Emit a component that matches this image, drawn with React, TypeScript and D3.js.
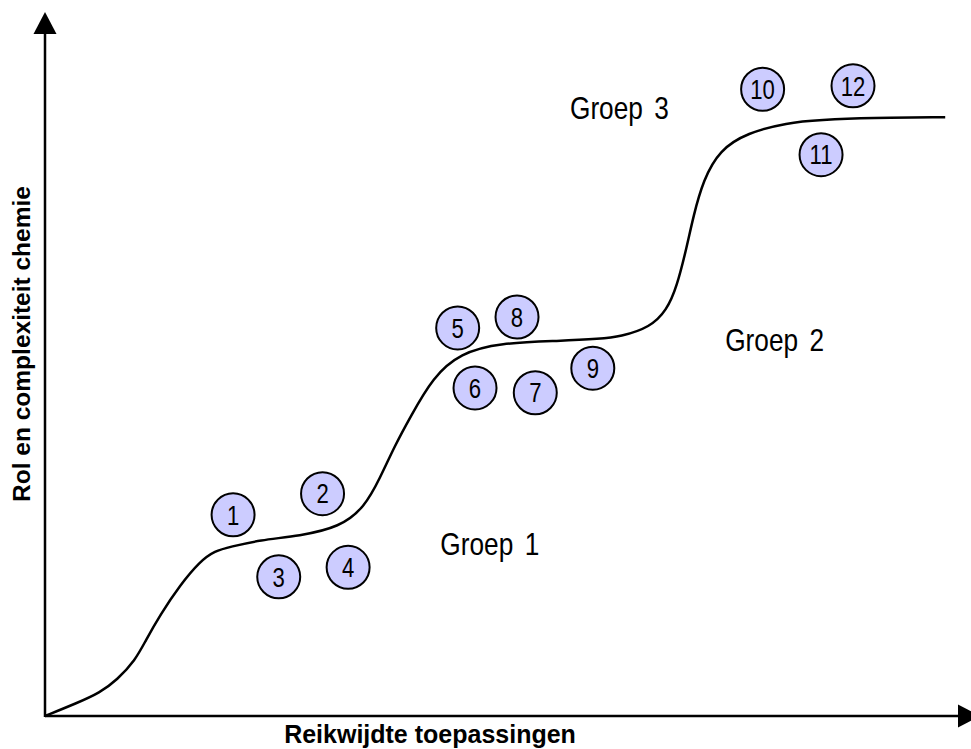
import * as d3 from "d3";

// curve (x: reach 0-100, y: role 0-100)
const curveX = [0, 3.5, 6.0, 7.9, 9.9, 11.0, 12.6, 14.8, 17.0, 18.6, 20.3, 23.5, 27.9, 32.3, 35.0, 36.7, 38.3, 40.0, 42.5, 45.5, 49.8, 56.4, 60.8, 63.0, 66.3, 68.1, 69.2, 70.3, 71.0, 72.1, 73.9, 76.9, 81.3, 84.9, 90.4, 98.6];
const curveY = [0, 1.9, 3.4, 5.3, 8.2, 11.0, 14.8, 19.2, 22.7, 24.2, 24.8, 25.8, 26.4, 27.7, 30.6, 34.9, 39.6, 43.8, 49.7, 53.2, 54.7, 55.0, 55.3, 55.6, 57.0, 59.5, 62.9, 68.8, 73.2, 78.6, 83.0, 85.5, 87.0, 87.4, 87.7, 87.8];

const itemIds = ["1", "2", "3", "4", "5", "6", "7", "8", "9", "10", "11", "12"];
const itemX = [20.6, 30.4, 25.6, 33.2, 45.2, 47.1, 53.7, 51.7, 60.0, 78.6, 85.0, 88.5];
const itemY = [29.5, 32.6, 20.4, 21.8, 56.9, 48.1, 47.4, 58.5, 51.0, 91.9, 82.3, 92.4];

const groupWord = "Groep";
const groupNums = ["1", "2", "3"];
const groupX = [43.3, 74.5, 57.5];
const groupY = [23.6, 53.5, 87.5];

const xTitle = "Reikwijdte toepassingen";
const yTitle = "Rol en complexiteit chemie";

const width = 971;
const height = 749;
const left = 45;
const right = 958;
const bottom = 716;
const top = 34;

const sans = "'Liberation Sans', Arial, sans-serif";
const squeeze = 0.82; // no narrow face installed, so squash the regular one

export default function App() {
  const x = d3.scaleLinear([0, 100], [left, right]);
  const y = d3.scaleLinear([0, 100], [bottom, top]);

  const pts: [number, number][] = curveX.map((v, i) => [v, curveY[i]]);
  const line = d3
    .line<[number, number]>()
    .x((d) => x(d[0]))
    .y((d) => y(d[1]))
    .curve(d3.curveBasis);

  return (
    <svg
      width={width}
      height={height}
      style={{ position: "absolute", left: 0, top: 0, background: "#fff" }}
    >
      {/* axes */}
      <line x1={left} y1={bottom + 1} x2={left} y2={top} stroke="#000" strokeWidth={2.5} />
      <path d={`M${left - 11.5},${top} L${left + 11.5},${top} L${left},${top - 22} Z`} fill="#000" />
      <line x1={left} y1={bottom} x2={right} y2={bottom} stroke="#000" strokeWidth={2.5} />
      <path d={`M${right},${bottom - 11.5} L${right},${bottom + 11.5} L${right + 22},${bottom} Z`} fill="#000" />

      <path d={line(pts) ?? ""} fill="none" stroke="#000" strokeWidth={2.5} />

      {itemIds.map((id, i) => (
        <g key={id} transform={`translate(${x(itemX[i])},${y(itemY[i])})`}>
          <circle r={21.5} fill="#ccccff" stroke="#000" strokeWidth={2} />
          <text
            transform={`scale(${squeeze},1)`}
            textAnchor="middle"
            dy="0.36em"
            fontFamily={sans}
            fontSize={27}
            fill="#000"
          >
            {id}
          </text>
        </g>
      ))}

      {groupNums.map((n, i) => (
        <text
          key={n}
          transform={`translate(${x(groupX[i])},${y(groupY[i])}) scale(${squeeze},1)`}
          fontFamily={sans}
          fontSize={32}
          fill="#000"
        >
          {groupWord}
          <tspan dx={14}>{n}</tspan>
        </text>
      ))}

      <text
        x={430}
        y={743}
        textAnchor="middle"
        fontFamily={sans}
        fontWeight="bold"
        fontSize={25}
      >
        {xTitle}
      </text>
      <text
        transform="translate(30,344) rotate(-90)"
        textAnchor="middle"
        fontFamily={sans}
        fontWeight="bold"
        fontSize={24.5}
      >
        {yTitle}
      </text>
    </svg>
  );
}
